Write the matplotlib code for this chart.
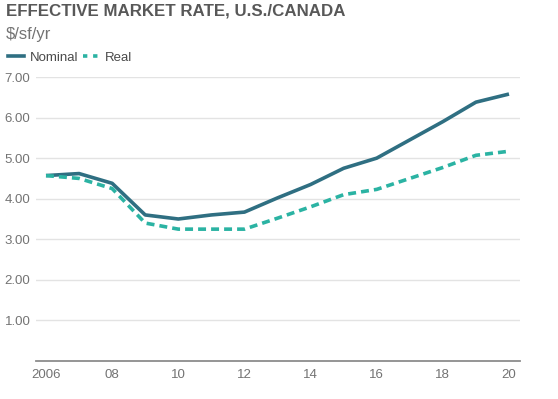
import matplotlib
matplotlib.use("Agg")
import matplotlib.pyplot as plt
from matplotlib.lines import Line2D

# data
years = [2006, 2007, 2008, 2009, 2010, 2011, 2012, 2013, 2014, 2015, 2016, 2017, 2018, 2019, 2020]
nominal = [4.57, 4.62, 4.38, 3.60, 3.50, 3.60, 3.67, 4.02, 4.35, 4.75, 5.00, 5.45, 5.90, 6.38, 6.58]
real = [4.57, 4.50, 4.25, 3.40, 3.25, 3.25, 3.25, 3.52, 3.80, 4.10, 4.23, 4.50, 4.77, 5.07, 5.17]
x_ticks = [2006, 2008, 2010, 2012, 2014, 2016, 2018, 2020]
x_labels = ["2006", "08", "10", "12", "14", "16", "18", "20"]
y_ticks = [1, 2, 3, 4, 5, 6, 7]

NOMINAL_COLOR = "#2f6f82"
REAL_COLOR = "#2bb3a3"
TEXT_COLOR = "#737373"

plt.rcParams['font.family'] = ['Liberation Sans', 'DejaVu Sans']

fig = plt.figure(figsize=(5.58, 3.99), dpi=100)
ax = fig.add_axes([36 / 558, 1 - 361 / 399, (520 - 36) / 558, (361 - 77) / 399])

ax.plot(years, nominal, color=NOMINAL_COLOR, lw=2.6, solid_capstyle='butt')
ax.plot(years, real, color=REAL_COLOR, lw=2.6, linestyle=(0, (2.2, 1.4)), dash_capstyle='butt')

ax.set_xlim(2006 - 10 / 33.07, 2020 + 11 / 33.07)
ax.set_ylim(0, 7.0)
ax.set_xticks(x_ticks)
ax.set_xticklabels(x_labels)
ax.set_yticks(y_ticks)
ax.set_yticklabels([f"{v:.2f}" for v in y_ticks])
ax.yaxis.grid(True, color="#e3e3e3", lw=1)
ax.set_axisbelow(True)
ax.tick_params(axis='both', length=0, labelsize=9.5, colors=TEXT_COLOR)
ax.tick_params(axis='x', pad=6)
ax.tick_params(axis='y', pad=4)
for side in ['top', 'right', 'left']:
    ax.spines[side].set_visible(False)
ax.spines['bottom'].set_color("#8c8c8c")
ax.spines['bottom'].set_linewidth(1.3)

fig.text(6 / 558, 1 - 11 / 399, "EFFECTIVE MARKET RATE, U.S./CANADA", fontsize=12.2,
         fontweight='bold', color="#585858", va='center', ha='left')
fig.text(6 / 558, 1 - 34 / 399, "$/sf/yr", fontsize=12, color=TEXT_COLOR, va='center', ha='left')

handles = [Line2D([], [], color=NOMINAL_COLOR, lw=2.6),
           Line2D([], [], color=REAL_COLOR, lw=2.6, linestyle=(0, (1.2, 1.6)))]
fig.legend(handles, ["Nominal", "Real"], loc='center left', bbox_to_anchor=(0, 1 - 58 / 399),
           ncol=2, frameon=False, fontsize=9.5, handlelength=1.25, handletextpad=0.4,
           columnspacing=0.35, labelcolor="#4a4a4a", borderaxespad=0.2)

fig.savefig("out.png", dpi=100)
